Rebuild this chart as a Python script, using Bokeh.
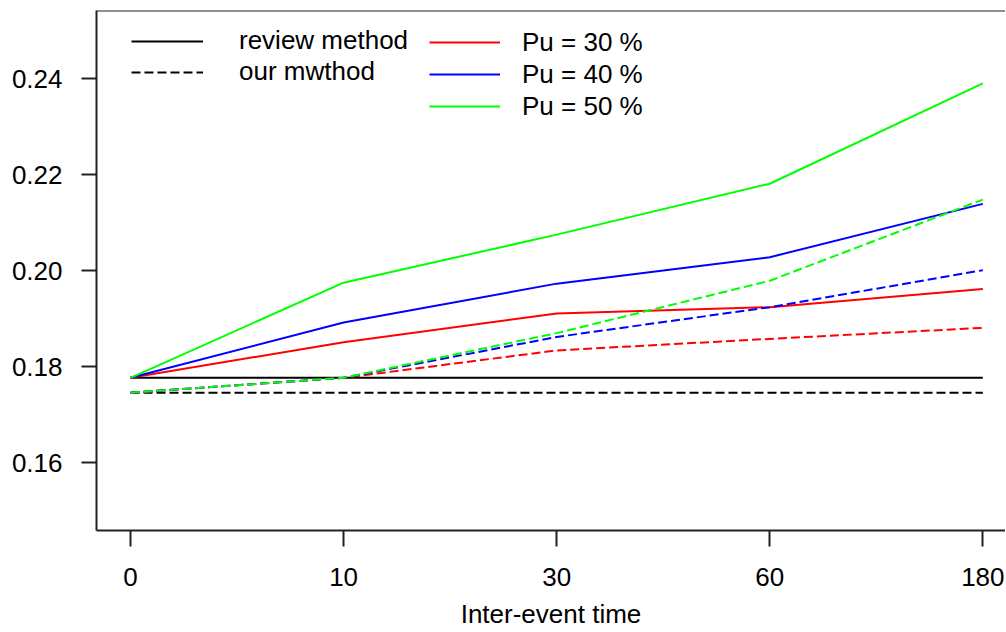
from bokeh.plotting import figure
from bokeh.models import FixedTicker, Span, Legend, LegendItem, Range1d
from bokeh.embed import file_html
from bokeh.resources import INLINE

# ---- data ----
x_labels = ["0", "10", "30", "60", "180"]
y_ticks = [0.16, 0.18, 0.20, 0.22, 0.24]

review_method = [0.1777, 0.1777, 0.1777, 0.1777, 0.1777]
our_method = [0.1746, 0.1746, 0.1746, 0.1746, 0.1746]

review_pu30 = [0.1777, 0.1851, 0.1911, 0.1924, 0.1962]
review_pu40 = [0.1777, 0.1892, 0.1973, 0.2028, 0.2139]
review_pu50 = [0.1777, 0.1975, 0.2075, 0.2181, 0.2390]

our_pu30 = [0.1746, 0.1777, 0.1834, 0.1858, 0.1881]
our_pu40 = [0.1746, 0.1777, 0.1862, 0.1924, 0.2001]
our_pu50 = [0.1746, 0.1777, 0.1870, 0.1979, 0.2148]

x = list(range(len(x_labels)))

FONT = "Liberation Sans"
AXC = "#222222"
DASH = "9 4"

p = figure(width=1005, height=631, output_backend="svg", toolbar_location=None,
           x_range=Range1d(-0.1596, 4.1064), y_range=Range1d(0.14591, 0.25416),
           min_border_left=96, min_border_right=0, min_border_top=10,
           min_border_bottom=101, background_fill_color="white",
           border_fill_color="white")

p.xgrid.visible = False
p.ygrid.visible = False
p.outline_line_color = None

for ax in (p.xaxis[0], p.yaxis[0]):
    ax.axis_line_color = AXC
    ax.axis_line_width = 2
    ax.major_tick_line_color = AXC
    ax.major_tick_line_width = 2
    ax.major_tick_in = 0
    ax.minor_tick_line_color = None
    ax.major_label_text_font = FONT
    ax.major_label_text_font_size = "26px"
    ax.major_label_text_color = "black"

p.xaxis.ticker = FixedTicker(ticks=x)
p.xaxis.major_label_overrides = {i: lab for i, lab in enumerate(x_labels)}
p.xaxis.major_tick_out = 16
p.xaxis.major_label_standoff = 21
p.xaxis.axis_label = "Inter-event time"
p.xaxis.axis_label_text_font = FONT
p.xaxis.axis_label_text_font_size = "26px"
p.xaxis.axis_label_text_font_style = "normal"
p.xaxis.axis_label_text_color = "black"
p.xaxis.axis_label_standoff = 10

p.yaxis.ticker = FixedTicker(ticks=y_ticks)
p.yaxis.major_label_overrides = {t: f"{t:.2f}" for t in y_ticks}
p.yaxis.major_tick_out = 15
p.yaxis.major_label_standoff = 19
p.yaxis.major_label_orientation = "horizontal"

# top border of the box
p.add_layout(Span(location=p.y_range.end, dimension="width",
                  line_color=AXC, line_width=2))

r_rev = p.line(x, review_method, line_color="black", line_width=2)
r_our = p.line(x, our_method, line_color="black", line_width=2, line_dash=DASH)

colors = ["#FF0000", "#0000FF", "#00FF00"]
rev_series = [review_pu30, review_pu40, review_pu50]
our_series = [our_pu30, our_pu40, our_pu50]
solid_r = []
for c, ys in zip(colors, rev_series):
    solid_r.append(p.line(x, ys, line_color=c, line_width=2))
for c, ys in zip(colors, our_series):
    p.line(x, ys, line_color=c, line_width=2, line_dash=DASH)


def style_legend(lg, standoff, gw, h):
    lg.border_line_color = None
    lg.background_fill_alpha = 0
    lg.padding = 0
    lg.margin = 0
    lg.spacing = 0
    lg.glyph_width = gw
    lg.glyph_height = h
    lg.label_height = h
    lg.label_standoff = standoff
    lg.label_text_font = FONT
    lg.label_text_font_size = "26px"
    lg.label_text_color = "black"


leg1 = Legend(items=[LegendItem(label="review method", renderers=[r_rev]),
                     LegendItem(label="our mwthod", renderers=[r_our])],
              location=(35, 443))
style_legend(leg1, 36, 72, 30)
leg2 = Legend(items=[LegendItem(label="Pu = 30 %", renderers=[solid_r[0]]),
                     LegendItem(label="Pu = 40 %", renderers=[solid_r[1]]),
                     LegendItem(label="Pu = 50 %", renderers=[solid_r[2]])],
              location=(333, 408))
style_legend(leg2, 22, 71, 32)
p.add_layout(leg1, "center")
p.add_layout(leg2, "center")

open("out.html", "w").write(file_html(p, INLINE))
